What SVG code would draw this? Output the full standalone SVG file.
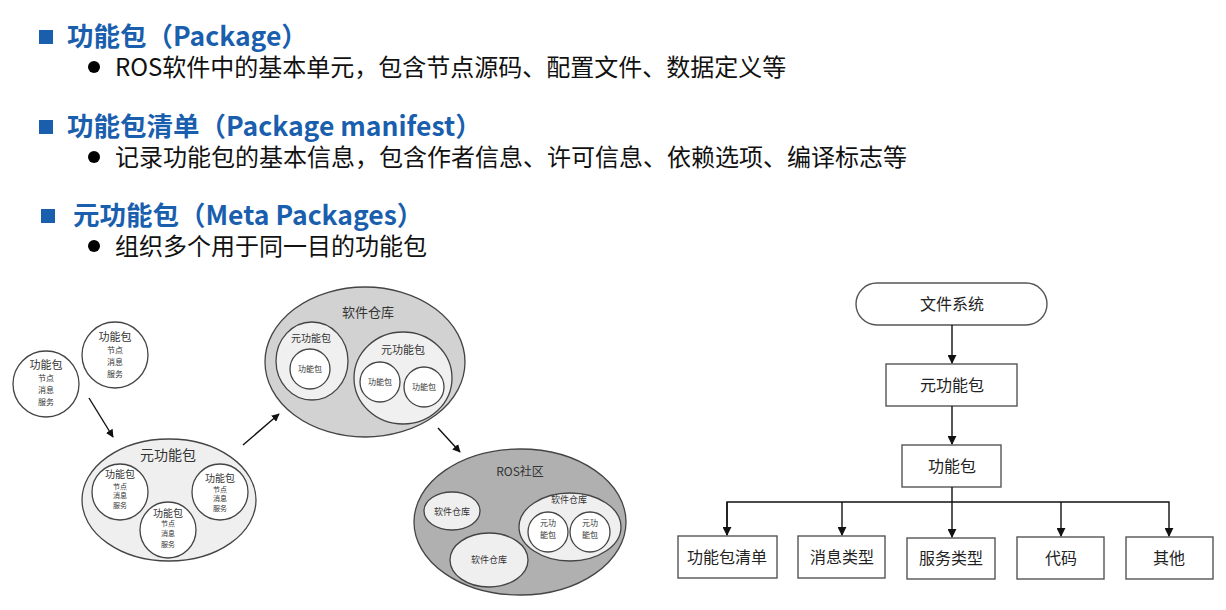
<svg xmlns="http://www.w3.org/2000/svg" width="1226" height="610" viewBox="0 0 1226 610">
<defs>
<style>
.t{font-family:"Noto Sans CJK SC","Noto Sans",sans-serif;font-weight:bold;font-size:26.5px;fill:#1a5fae}
.b{font-family:"Noto Sans CJK SC","Noto Sans",sans-serif;font-size:24px;fill:#111}
.sq{fill:#1a5fae}
.dot{fill:#000}
.c{font-family:"Noto Sans CJK SC",sans-serif;fill:#333;text-anchor:middle}
.s{stroke:#444;stroke-width:1.3}
.box{fill:#fff;stroke:#555;stroke-width:1.4}
.bl{font-family:"Noto Sans CJK SC",sans-serif;font-size:16px;fill:#222;text-anchor:middle}
.ln{fill:none;stroke:#111;stroke-width:1.4}
</style>
<marker id="ah" viewBox="0 0 10 10" refX="9" refY="5" markerWidth="8" markerHeight="8" markerUnits="userSpaceOnUse" orient="auto"><path d="M0,0 L10,5 L0,10 z" fill="#111"/></marker>
<marker id="ah2" viewBox="0 0 10 10" refX="9" refY="5" markerWidth="9" markerHeight="9" markerUnits="userSpaceOnUse" orient="auto"><path d="M0,0 L10,5 L0,10 z" fill="#111"/></marker>
</defs>

<g id="text-list">
<rect class="sq" x="39" y="30" width="14" height="14"/>
<text class="t" x="67" y="46">功能包（Package）</text>
<circle class="dot" cx="94" cy="67" r="6"/>
<text class="b" x="115" y="76">ROS软件中的基本单元，包含节点源码、配置文件、数据定义等</text>
<rect class="sq" x="39" y="120" width="14" height="14"/>
<text class="t" x="67" y="136">功能包清单（Package manifest）</text>
<circle class="dot" cx="94" cy="157" r="6"/>
<text class="b" x="115" y="166">记录功能包的基本信息，包含作者信息、许可信息、依赖选项、编译标志等</text>
<rect class="sq" x="41" y="209" width="14" height="14"/>
<text class="t" x="73" y="225">元功能包（Meta Packages）</text>
<circle class="dot" cx="94" cy="246" r="6"/>
<text class="b" x="115" y="255">组织多个用于同一目的功能包</text>
</g>

<g id="pkg-a">
<circle class="s" cx="46" cy="384" r="33" fill="#fff"/>
<text class="c" x="46" y="369" font-size="11">功能包</text>
<text class="c" x="46" y="381" font-size="8">节点</text>
<text class="c" x="46" y="393" font-size="8">消息</text>
<text class="c" x="46" y="405" font-size="8">服务</text>
</g>
<g id="pkg-b">
<circle class="s" cx="115" cy="355" r="33" fill="#fff"/>
<text class="c" x="115" y="341" font-size="11">功能包</text>
<text class="c" x="115" y="353" font-size="8">节点</text>
<text class="c" x="115" y="365" font-size="8">消息</text>
<text class="c" x="115" y="377" font-size="8">服务</text>
</g>

<g id="meta-pkg">
<ellipse class="s" cx="169" cy="500" rx="87" ry="61" fill="#efefef"/>
<text class="c" x="168" y="460" font-size="14">元功能包</text>
<circle class="s" cx="120" cy="492" r="28" fill="#fff"/>
<text class="c" x="120" y="478" font-size="10">功能包</text>
<text class="c" x="120" y="489" font-size="7">节点</text>
<text class="c" x="120" y="498" font-size="7">消息</text>
<text class="c" x="120" y="508" font-size="7">服务</text>
<circle class="s" cx="220" cy="492" r="28" fill="#fff"/>
<text class="c" x="220" y="482" font-size="10">功能包</text>
<text class="c" x="220" y="492" font-size="7">节点</text>
<text class="c" x="220" y="501" font-size="7">消息</text>
<text class="c" x="220" y="511" font-size="7">服务</text>
<circle class="s" cx="168" cy="530" r="28" fill="#fff"/>
<text class="c" x="168" y="517" font-size="10">功能包</text>
<text class="c" x="168" y="526" font-size="7">节点</text>
<text class="c" x="168" y="536" font-size="7">消息</text>
<text class="c" x="168" y="547" font-size="7">服务</text>
</g>

<g id="repo">
<ellipse class="s" cx="365" cy="362" rx="100" ry="75" fill="#d2d2d2"/>
<text class="c" x="368" y="317" font-size="13">软件仓库</text>
<ellipse class="s" cx="312" cy="361" rx="36" ry="39" fill="#f0f0f0"/>
<text class="c" x="311" y="342" font-size="10">元功能包</text>
<circle class="s" cx="310" cy="369" r="20" fill="#fff"/>
<text class="c" x="310" y="372" font-size="8">功能包</text>
<ellipse class="s" cx="403" cy="378" rx="49" ry="46" fill="#f0f0f0"/>
<text class="c" x="403" y="354" font-size="11">元功能包</text>
<circle class="s" cx="380" cy="382" r="20" fill="#fff"/>
<text class="c" x="380" y="385" font-size="8">功能包</text>
<circle class="s" cx="424" cy="387" r="20" fill="#fff"/>
<text class="c" x="424" y="390" font-size="8">功能包</text>
</g>

<g id="ros-community">
<ellipse class="s" cx="520" cy="522" rx="106" ry="73" fill="#b0b0b0"/>
<text class="c" x="520" y="476" font-size="12">ROS社区</text>
<ellipse class="s" cx="452" cy="511" rx="28" ry="19" fill="#efefef"/>
<text class="c" x="452" y="515" font-size="9">软件仓库</text>
<ellipse class="s" cx="489" cy="560" rx="39" ry="27" fill="#efefef"/>
<text class="c" x="489" y="563" font-size="9">软件仓库</text>
<ellipse class="s" cx="570" cy="527" rx="51" ry="34" fill="#efefef"/>
<text class="c" x="569" y="503" font-size="9">软件仓库</text>
<circle class="s" cx="548" cy="532" r="20" fill="#fff"/>
<text class="c" x="548" y="526" font-size="8">元功</text>
<text class="c" x="548" y="538" font-size="8">能包</text>
<circle class="s" cx="590" cy="532" r="20" fill="#fff"/>
<text class="c" x="590" y="526" font-size="8">元功</text>
<text class="c" x="590" y="538" font-size="8">能包</text>
</g>

<g id="tree-fs"><rect class="box" x="856" y="283" width="191" height="42" rx="21"/><text class="bl" x="952" y="310">文件系统</text></g>
<g id="tree-meta"><rect class="box" x="886" y="364" width="131" height="42"/><text class="bl" x="952" y="391">元功能包</text></g>
<g id="tree-pkg"><rect class="box" x="902" y="445" width="99" height="42"/><text class="bl" x="952" y="472">功能包</text></g>
<g id="tree-manifest"><rect class="box" x="678" y="536" width="99" height="42"/><text class="bl" x="727" y="563">功能包清单</text></g>
<g id="tree-msg"><rect class="box" x="798" y="536" width="87" height="42"/><text class="bl" x="842" y="563">消息类型</text></g>
<g id="tree-srv"><rect class="box" x="907" y="538" width="88" height="41"/><text class="bl" x="951" y="564">服务类型</text></g>
<g id="tree-code"><rect class="box" x="1017" y="537" width="87" height="42"/><text class="bl" x="1061" y="564">代码</text></g>
<g id="tree-other"><rect class="box" x="1126" y="537" width="87" height="42"/><text class="bl" x="1169" y="564">其他</text></g>

<g id="connectors">
<line class="ln" x1="89" y1="398" x2="113" y2="437" marker-end="url(#ah)"/>
<line class="ln" x1="243" y1="445" x2="279" y2="414" marker-end="url(#ah)"/>
<line class="ln" x1="438" y1="428" x2="460" y2="452" marker-end="url(#ah)"/>
<line class="ln" x1="952" y1="325" x2="952" y2="363" marker-end="url(#ah2)"/>
<line class="ln" x1="952" y1="406" x2="952" y2="444" marker-end="url(#ah2)"/>
<line class="ln" x1="952" y1="487" x2="952" y2="537" marker-end="url(#ah2)"/>
<polyline class="ln" points="727,535 727,502 1169,502 1169,536" marker-end="url(#ah2)"/>
<line class="ln" x1="727" y1="502" x2="727" y2="535" marker-end="url(#ah2)"/>
<line class="ln" x1="842" y1="502" x2="842" y2="535" marker-end="url(#ah2)"/>
<line class="ln" x1="1061" y1="502" x2="1061" y2="536" marker-end="url(#ah2)"/>
</g>
</svg>
